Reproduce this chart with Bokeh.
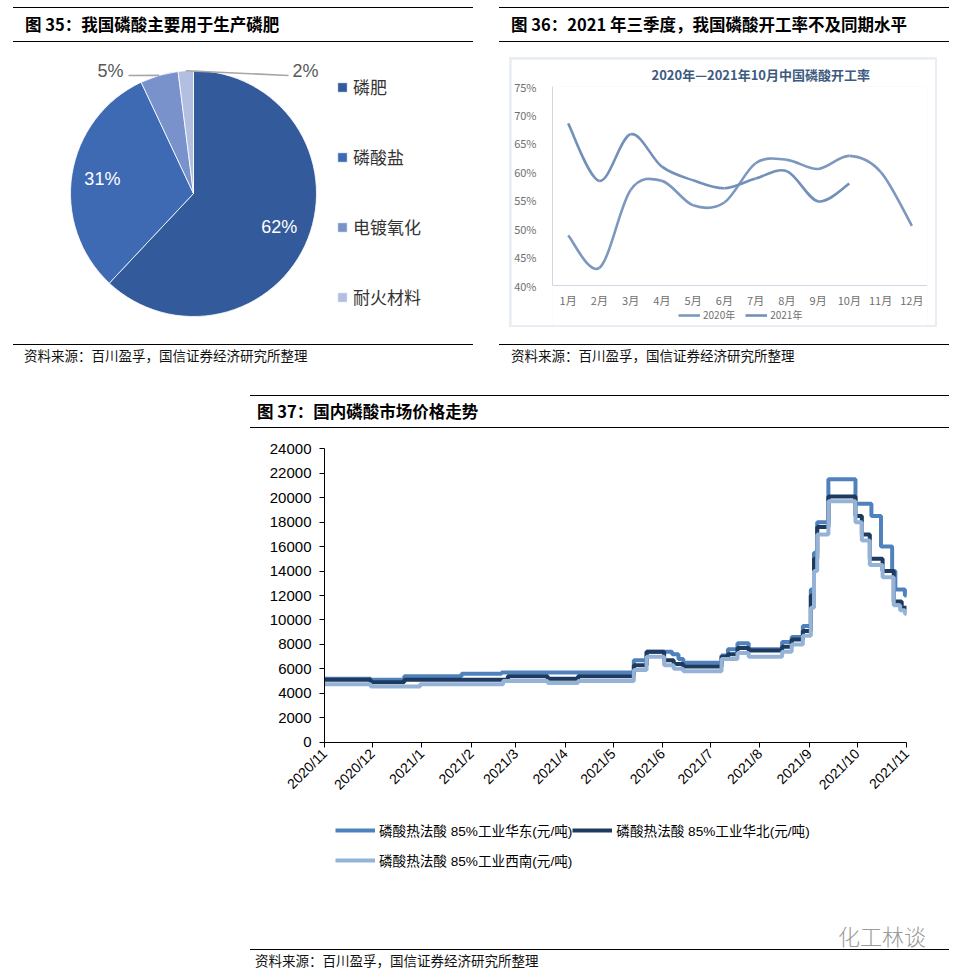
import numpy as np
import pandas as pd
from bokeh.plotting import figure
from bokeh.layouts import column, row
from bokeh.models import (ColumnDataSource, Div, Spacer, Range1d, FixedTicker,
                          Legend, LegendItem)
from bokeh.core.properties import value
from bokeh.embed import file_html
from bokeh.resources import INLINE

CJK = "Noto Sans CJK SC"
LAT = "Liberation Sans"

# ---------------- data: 图35 ----------------
use_names = ["磷肥", "磷酸盐", "电镀氧化", "耐火材料"]
use_shares = [62, 31, 5, 2]
use_colors = ["#335a9a", "#3e6ab4", "#7a92cc", "#b3bee0"]

# ---------------- data: 图36 ----------------
months = ["1月", "2月", "3月", "4月", "5月", "6月", "7月", "8月", "9月", "10月", "11月", "12月"]
rate_2020 = [48.8, 43.1, 56.8, 58.4, 54.1, 54.6, 61.5, 62.1, 60.5, 62.8, 60.0, 50.5]
rate_2021 = [68.5, 58.4, 66.6, 60.9, 58.5, 57.1, 58.8, 60.1, 54.8, 57.9]
rate_ticks = [40, 45, 50, 55, 60, 65, 70, 75]
rate_tick_labels = ["40%", "45%", "50%", "55%", "60%", "65%", "70%", "75%"]

# ---------------- data: 图37 ----------------
price_tick_labels = ["2020/11", "2020/12", "2021/1", "2021/2", "2021/3", "2021/4", "2021/5",
                     "2021/6", "2021/7", "2021/8", "2021/9", "2021/10", "2021/11"]
price_ticks_y = [0, 2000, 4000, 6000, 8000, 10000, 12000, 14000, 16000, 18000, 20000, 22000, 24000]
price_names = ["磷酸热法酸 85%工业华东(元/吨)", "磷酸热法酸 85%工业华北(元/吨)", "磷酸热法酸 85%工业西南(元/吨)"]
price_colors = ["#4f81bd", "#1f3a5f", "#95b3d7"]

east_dates = ["2020-11-01", "2020-11-30", "2020-12-21", "2021-01-26", "2021-02-20", "2021-05-14",
              "2021-05-22", "2021-06-07", "2021-06-11", "2021-06-14", "2021-07-08", "2021-07-12",
              "2021-07-18", "2021-07-25", "2021-08-15", "2021-08-21", "2021-08-28", "2021-09-02",
              "2021-09-04", "2021-09-06", "2021-09-13", "2021-09-30", "2021-10-10", "2021-10-16",
              "2021-10-23", "2021-10-25", "2021-10-31", "2021-11-01"]
east_prices = [5200, 5100, 5400, 5600, 5700, 6700, 7400, 7200, 6800, 6500, 7100, 7600, 8100, 7600,
               8200, 8600, 9500, 12500, 15500, 18000, 21500, 19500, 18500, 16000, 14000, 12500,
               12000, 12000]

north_dates = ["2020-11-01", "2020-11-30", "2020-12-21", "2021-02-24", "2021-03-21", "2021-04-09",
               "2021-05-14", "2021-05-22", "2021-06-02", "2021-06-08", "2021-06-14", "2021-07-08",
               "2021-07-12", "2021-07-18", "2021-07-25", "2021-08-15", "2021-08-21", "2021-08-28",
               "2021-09-02", "2021-09-04", "2021-09-06", "2021-09-13", "2021-09-30", "2021-10-04",
               "2021-10-09", "2021-10-17", "2021-10-24", "2021-10-29", "2021-11-01"]
north_prices = [5100, 4900, 5100, 5400, 5200, 5400, 6300, 7400, 6700, 6400, 6200, 7000, 7200, 7700,
                7500, 7800, 8400, 9100, 12000, 15000, 17600, 20100, 18500, 17000, 15000, 14000,
                11500, 11000, 11000]

sw_dates = ["2020-11-01", "2020-11-30", "2020-12-31", "2021-02-21", "2021-03-21", "2021-04-09",
            "2021-05-14", "2021-05-22", "2021-06-02", "2021-06-08", "2021-06-14", "2021-07-08",
            "2021-07-18", "2021-07-25", "2021-08-15", "2021-08-21", "2021-08-28", "2021-09-02",
            "2021-09-04", "2021-09-06", "2021-09-13", "2021-09-30", "2021-10-04", "2021-10-09",
            "2021-10-17", "2021-10-24", "2021-10-28", "2021-10-31", "2021-11-01"]
sw_prices = [4750, 4550, 4750, 5000, 4850, 5000, 5900, 7000, 6300, 6000, 5800, 6800, 7300, 7000,
             7400, 8000, 8700, 11000, 14000, 17000, 19700, 18000, 16500, 14500, 13500, 11200,
             10800, 10500, 10500]

SOURCE = "资料来源：百川盈孚，国信证券经济研究所整理"
WATERMARK = "化工林谈"


def header(text, width, height, pad):
    html = (f'<div style="box-sizing:border-box;width:{width}px;height:{height}px;'
            f'border-top:1px solid #000;border-bottom:1px solid #000;padding-left:{pad}px;'
            f"font-family:'{CJK}';font-weight:bold;font-size:16.5px;line-height:{height - 2}px;"
            f'color:#000;white-space:nowrap;overflow:hidden;">{text}</div>')
    return Div(text=html, width=width, height=height, margin=0)


def footer(width, height, pad):
    html = (f'<div style="box-sizing:border-box;width:{width}px;height:{height}px;'
            f'border-top:1px solid #000;padding-left:{pad}px;'
            f"font-family:'{CJK}';font-size:13.5px;line-height:{height - 2}px;"
            f'color:#111;white-space:nowrap;overflow:hidden;">{SOURCE}</div>')
    return Div(text=html, width=width, height=height, margin=0)


def footer37(width, height, pad):
    html = (f'<div style="position:relative;width:{width}px;height:{height}px;'
            f"font-family:'{CJK}';white-space:nowrap;\">"
            f'<div style="position:absolute;left:588px;top:1px;font-size:22px;color:#9a9a9a;'
            f'line-height:28px;font-weight:300;">{WATERMARK}</div>'
            f'<div style="position:absolute;box-sizing:border-box;left:0;top:29px;width:{width}px;'
            f'height:{height - 29}px;border-top:1px solid #000;padding-left:{pad}px;font-size:13.5px;'
            f'line-height:20px;color:#111;">{SOURCE}</div></div>')
    return Div(text=html, width=width, height=height, margin=0)


# ================= 图35 pie =================
W35, H35 = 460, 302
p35 = figure(width=W35, height=H35, x_range=Range1d(0, W35), y_range=Range1d(0, H35),
             output_backend="svg", toolbar_location=None, min_border=0,
             x_axis_location=None, y_axis_location=None, outline_line_color=None)
p35.grid.visible = False
cx, cy, R = 180, 151, 123
sh = np.array(use_shares, float) / sum(use_shares)
c1 = np.cumsum(sh)
c0 = c1 - sh
start = np.pi / 2 - 2 * np.pi * c0
end = np.pi / 2 - 2 * np.pi * c1
mid = (start + end) / 2
src35 = ColumnDataSource(dict(name=use_names, start=start, end=end, color=use_colors))
wr = p35.wedge(x=cx, y=cy, radius=R, start_angle="start", end_angle="end", direction="clock",
               fill_color="color", line_color="white", line_width=0.8, source=src35)

lbl = [f"{v}%" for v in use_shares]
inner = ColumnDataSource(dict(x=cx + 0.75 * R * np.cos(mid[:2]), y=cy + 0.75 * R * np.sin(mid[:2]),
                              t=lbl[:2]))
p35.text(x="x", y="y", text="t", source=inner, text_color="white", text_font=value(LAT),
         text_font_size="18px", text_align="center", text_baseline="middle")
rim_x = cx + R * np.cos(mid)
rim_y = cy + R * np.sin(mid)
p35.segment(x0=[rim_x[2], rim_x[3]], y0=[rim_y[2], rim_y[3]], x1=[115, 275], y1=[269, 269],
            line_color="#a6a6a6", line_width=1.6)
p35.text(x=[110], y=[274], text=[lbl[2]], text_color="#595959", text_font=value(LAT),
         text_font_size="18px", text_align="right", text_baseline="middle")
p35.text(x=[279], y=[274], text=[lbl[3]], text_color="#595959", text_font=value(LAT),
         text_font_size="18px", text_align="left", text_baseline="middle")

leg35 = Legend(items=[LegendItem(label=n, renderers=[wr], index=i) for i, n in enumerate(use_names)],
               location=(323, 35), glyph_width=12, glyph_height=12, label_height=12,
               spacing=45, label_standoff=5, padding=0, margin=0, border_line_color=None,
               background_fill_alpha=0, label_text_font=CJK, label_text_font_size="17px",
               label_text_color="#333333")
p35.add_layout(leg35)

panel35 = column(header("图 35：我国磷酸主要用于生产磷肥", 460, 35, 12), p35,
                 footer(460, 22, 11), spacing=0)

# ================= 图36 lines =================
W36, H36, LEFT36, RIGHT36, TOP36, BOT36 = 424, 266, 33, 8, 27, 0
AXIS_PX36 = 199                       # pixels between 40% and 75%
frame_h36 = H36 - TOP36 - BOT36
y0_36 = rate_ticks[-1] - (rate_ticks[-1] - rate_ticks[0]) * frame_h36 / AXIS_PX36
p36 = figure(width=W36, height=H36, x_range=Range1d(0, 12), y_range=Range1d(y0_36, rate_ticks[-1]),
             output_backend="svg", toolbar_location=None, min_border_left=LEFT36,
             min_border_right=RIGHT36, min_border_top=TOP36, min_border_bottom=BOT36,
             outline_line_color=None, title="2020年—2021年10月中国磷酸开工率")
p36.title.align = "left"
p36.title.offset = 99
p36.title.standoff = 5
p36.title.text_font = CJK
p36.title.text_font_size = "13px"
p36.title.text_color = "#3d5a80"
p36.grid.visible = False
for ax in (p36.xaxis[0], p36.yaxis[0]):
    ax.axis_line_color = "#d0d7e2"
    ax.major_tick_line_color = None
    ax.minor_tick_line_color = None
    ax.major_label_text_font = CJK
    ax.major_label_text_font_size = "11px"
    ax.major_label_text_color = "#6f6f6f"
p36.yaxis.ticker = FixedTicker(ticks=rate_ticks)
p36.yaxis.bounds = (rate_ticks[0], rate_ticks[-1])
p36.yaxis.major_label_overrides = dict(zip(rate_ticks, rate_tick_labels))
p36.yaxis.major_label_standoff = 10
xpos = [i + 0.5 for i in range(len(months))]
p36.xaxis.ticker = FixedTicker(ticks=xpos)
p36.xaxis.fixed_location = rate_ticks[0]
p36.xaxis.major_label_overrides = dict(zip(xpos, months))
p36.xaxis.major_label_standoff = 0


def smooth(xs, ys):
    x = np.asarray(xs, float)
    y = np.asarray(ys, float)
    n = len(x)
    xp = np.r_[x[0], x, x[-1]]
    yp = np.r_[y[0], y, y[-1]]
    return ColumnDataSource(dict(
        x0=x[:-1], y0=y[:-1], x1=x[1:], y1=y[1:],
        cx0=x[:-1] + (xp[2:n + 1] - xp[0:n - 1]) / 6, cy0=y[:-1] + (yp[2:n + 1] - yp[0:n - 1]) / 6,
        cx1=x[1:] - (xp[3:n + 2] - xp[1:n]) / 6, cy1=y[1:] - (yp[3:n + 2] - yp[1:n]) / 6))


r20 = p36.bezier(x0="x0", y0="y0", x1="x1", y1="y1", cx0="cx0", cy0="cy0", cx1="cx1", cy1="cy1",
                 source=smooth(xpos[:len(rate_2020)], rate_2020), line_color="#7d98be", line_width=2.6)
r21 = p36.bezier(x0="x0", y0="y0", x1="x1", y1="y1", cx0="cx0", cy0="cy0", cx1="cx1", cy1="cy1",
                 source=smooth(xpos[:len(rate_2021)], rate_2021), line_color="#7391b8", line_width=2.6)
leg36 = Legend(items=[LegendItem(label="2020年", renderers=[r20]), LegendItem(label="2021年", renderers=[r21])],
               orientation="horizontal", location=(126, 3), glyph_width=22, glyph_height=14,
               label_height=14, label_standoff=3, spacing=10, padding=0, margin=0,
               border_line_color=None, background_fill_alpha=0, label_text_font=CJK,
               label_text_font_size="10px", label_text_color="#6f6f6f")
p36.add_layout(leg36)

box36 = column(Spacer(width=W36 + 4, height=2),
               row(Spacer(width=2, height=H36), p36, Spacer(width=2, height=H36), spacing=0),
               Spacer(width=W36 + 4, height=2), spacing=0,
               styles={"background-color": "#e9eef5"})
content36 = column(Spacer(width=450, height=15),
                   row(Spacer(width=10, height=270), box36, Spacer(width=12, height=270), spacing=0),
                   Spacer(width=450, height=17), spacing=0)
panel36 = column(header("图 36：2021 年三季度，我国磷酸开工率不及同期水平", 450, 35, 12), content36,
                 footer(450, 22, 12), spacing=0)

# ================= 图37 price =================
# figure occupies page x 250..949, y 428..920; the frame fills it and both axes are pinned inside.
W37, H37 = 699, 492
FL, FR, FT, FB = 2, 2, 2, 10                     # frame insets
PX_X0, PX_X1 = 324 - 250, 906 - 250              # pixel columns of first / last month tick
PX_Y0, PX_Y1 = 741.7 - 428, 448.3 - 428          # pixel rows of 0 and 24000
tick_dt = [pd.Timestamp(s + "/1") for s in price_tick_labels]
tick_ms = [float(t.value // 10**6) for t in tick_dt]
ms_px = (tick_ms[-1] - tick_ms[0]) / (PX_X1 - PX_X0)
xr = Range1d(tick_ms[0] - (PX_X0 - FL) * ms_px, tick_ms[-1] + (W37 - FR - PX_X1) * ms_px)
u_px = (price_ticks_y[-1] - price_ticks_y[0]) / (PX_Y0 - PX_Y1)
yr = Range1d(price_ticks_y[0] - (H37 - FB - PX_Y0) * u_px, price_ticks_y[-1] + (PX_Y1 - FT) * u_px)

p37 = figure(width=W37, height=H37, x_axis_type="datetime", x_range=xr, y_range=yr,
             output_backend="svg", toolbar_location=None, min_border_left=FL,
             min_border_right=FR, min_border_top=FT, min_border_bottom=FB,
             outline_line_color=None)
p37.grid.visible = False
for ax in (p37.xaxis[0], p37.yaxis[0]):
    ax.axis_line_color = "black"
    ax.major_tick_line_color = "black"
    ax.major_tick_out = 5
    ax.major_tick_in = 0
    ax.minor_tick_line_color = None
    ax.major_label_text_font = LAT
    ax.major_label_text_color = "black"
p37.yaxis.ticker = FixedTicker(ticks=price_ticks_y)
p37.yaxis.bounds = (price_ticks_y[0], price_ticks_y[-1])
p37.yaxis.fixed_location = tick_ms[0]
p37.yaxis.major_label_text_font_size = "15px"
p37.yaxis.major_label_standoff = 8
p37.xaxis.ticker = FixedTicker(ticks=tick_ms)
p37.xaxis.bounds = (tick_ms[0], tick_ms[-1])
p37.xaxis.fixed_location = price_ticks_y[0]
p37.xaxis.major_label_overrides = dict(zip(tick_ms, price_tick_labels))
p37.xaxis.major_label_orientation = np.pi / 4
p37.xaxis.major_label_text_font_size = "14px"
p37.xaxis.major_label_standoff = 4

renderers = []
for dates, prices, color in ((east_dates, east_prices, price_colors[0]),
                             (north_dates, north_prices, price_colors[1]),
                             (sw_dates, sw_prices, price_colors[2])):
    s = ColumnDataSource(dict(d=pd.to_datetime(dates), v=prices))
    renderers.append(p37.step(x="d", y="v", mode="after", source=s, line_color=color, line_width=4))

leg37 = Legend(items=[LegendItem(label=n, renderers=[r]) for n, r in zip(price_names, renderers)],
               orientation="horizontal", ncols=2, location=(335 - 250 - FL, H37 - FB - (875 - 428)),
               glyph_width=40, glyph_height=30, label_height=30, label_standoff=4, spacing=0,
               padding=0, margin=0, border_line_color=None, background_fill_alpha=0,
               label_text_font=f"{LAT}, {CJK}", label_text_font_size="13.6px",
               label_text_color="black")
p37.add_layout(leg37)

panel37 = column(header("图 37：国内磷酸市场价格走势", 699, 33, 7), p37, footer37(699, 51, 5), spacing=0)

layout = column(
    Spacer(width=941, height=7),
    row(Spacer(width=13, height=359), panel35, Spacer(width=26, height=359), panel36, spacing=0),
    Spacer(width=941, height=29),
    row(Spacer(width=250, height=576), panel37, spacing=0),
    spacing=0)

open("out.html", "w").write(file_html(layout, INLINE))
